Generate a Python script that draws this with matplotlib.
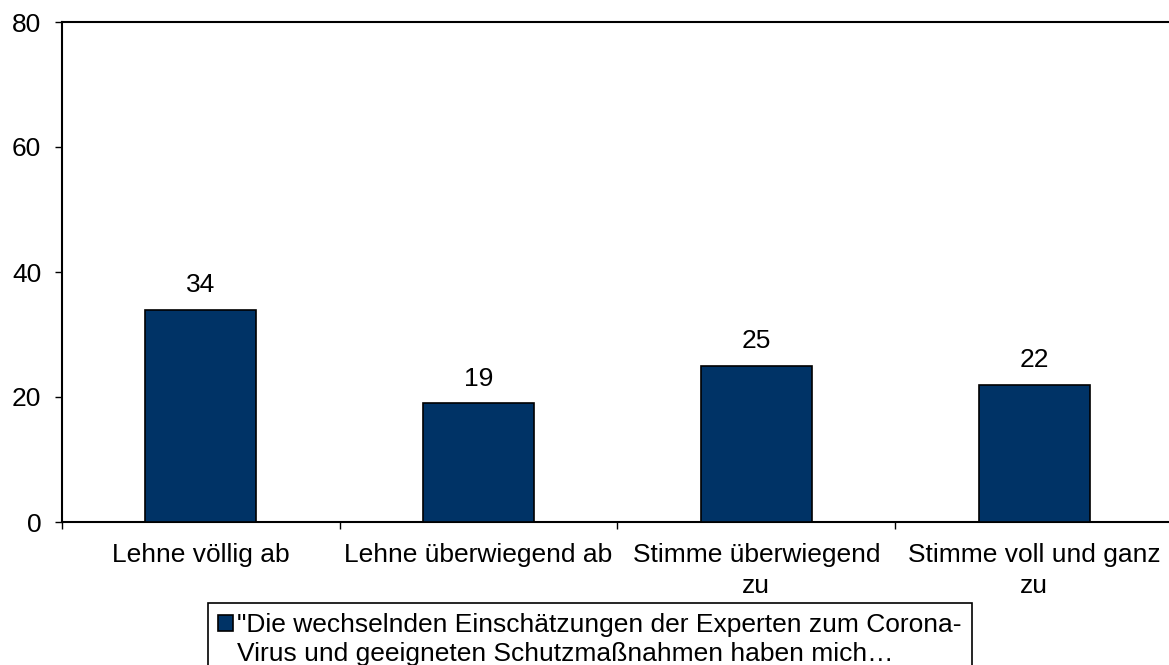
import matplotlib
matplotlib.use("Agg")
import matplotlib.pyplot as plt
from matplotlib.patches import Rectangle
from matplotlib.ticker import FixedLocator, NullFormatter

categories = ["Lehne völlig ab", "Lehne überwiegend ab", "Stimme überwiegend\nzu", "Stimme voll und ganz\nzu"]
values = [34, 19, 25, 22]
yticks = [0, 20, 40, 60, 80]
series_label_lines = ["\"Die wechselnden Einschätzungen der Experten zum Corona-",
                      "Virus und geeigneten Schutzmaßnahmen haben mich…"]

plt.rcParams['font.family'] = ['Liberation Sans', 'DejaVu Sans']
FS = 19
BAR_COLOR = "#003366"

W, H = 1169, 665
fig = plt.figure(figsize=(W / 100, H / 100), dpi=100)
ax = fig.add_axes([62 / W, (H - 522) / H, 1111 / W, 500 / H])

x = list(range(len(categories)))
bars = ax.bar(x, values, width=0.4, color=BAR_COLOR, edgecolor="black", linewidth=1.2, zorder=3)

for xi, v in zip(x, values):
    ax.annotate(str(v), (xi, v), xytext=(0, 9), textcoords="offset points",
                ha="center", va="bottom", fontsize=FS)

ax.set_xlim(-0.5, len(categories) - 0.5)
ax.set_ylim(0, 80)
ax.set_yticks(yticks)
ax.set_yticklabels([str(t) for t in yticks], fontsize=FS)

ax.xaxis.set_major_locator(FixedLocator([i - 0.5 for i in range(len(categories) + 1)]))
ax.xaxis.set_major_formatter(NullFormatter())
ax.xaxis.set_minor_locator(FixedLocator(x))
ax.set_xticklabels(categories, minor=True, fontsize=FS, linespacing=1.4)
ax.tick_params(axis="x", which="minor", length=0, pad=15)
ax.tick_params(axis="x", which="major", length=5, width=1, direction="out")
ax.tick_params(axis="y", length=5, width=1, direction="out", pad=10)

for s in ["left", "bottom", "top"]:
    ax.spines[s].set_linewidth(1.5)
    ax.spines[s].set_color("black")
ax.spines["right"].set_visible(False)

h1 = Rectangle((0, 0), 1, 1, facecolor=BAR_COLOR, edgecolor="black", linewidth=1.2)
h2 = Rectangle((0, 0), 1, 1, facecolor="none", edgecolor="none")
leg = fig.legend(handles=[h1, h2], labels=series_label_lines, loc="upper center",
                 bbox_to_anchor=(590 / W, 1 - 603 / H), fontsize=FS, frameon=True,
                 fancybox=False, edgecolor="black", framealpha=1, handlelength=0.57,
                 handleheight=0.57, handletextpad=0.15, borderpad=0.38, borderaxespad=0,
                 labelspacing=0.2)
leg.get_frame().set_linewidth(1.2)

fig.savefig("out.png", dpi=100)
